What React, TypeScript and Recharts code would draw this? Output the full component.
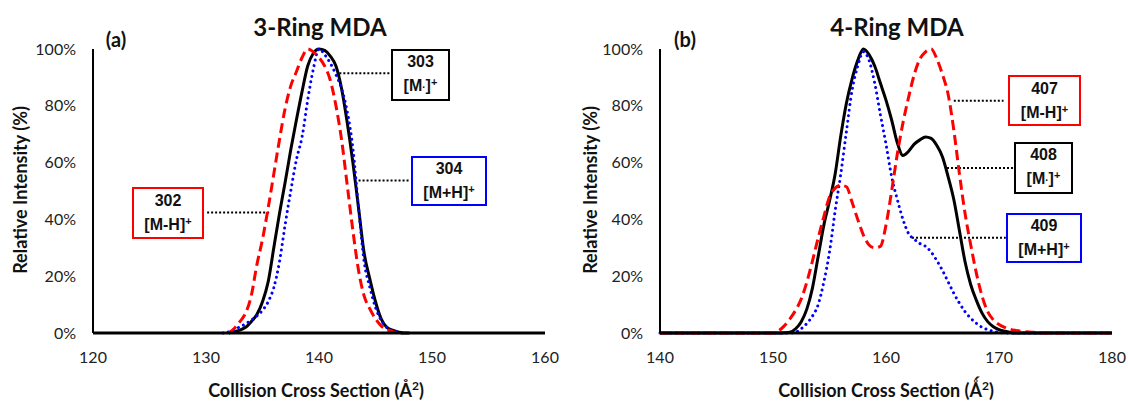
import React from 'react';
import { LineChart, Line, XAxis, YAxis, ReferenceLine } from 'recharts';

// 3-ring MDA, collision cross section (Å²) and relative intensity (%)
const ccs3 = [131.5, 132, 132.5, 133, 133.5, 134, 134.5, 135, 135.5, 136, 136.5, 137, 137.5, 138, 138.5, 139, 139.5, 140, 140.5, 141, 141.5, 142, 142.5, 143, 143.5, 144, 144.5, 145, 145.5, 146, 146.5, 147, 147.5, 148];
const mh302 = [null, 0, 1.6, 4, 7, 13, 24, 33, 44, 56, 68, 79, 87, 92, 97, 100, 99, 97, 94, 89, 80, 68, 52, 36, 22, 13, 8.5, 5, 2.5, 1.2, 0.5, 0, null, null];
const m303 = [null, 0, 0.5, 1, 2, 4, 6.5, 11, 18, 30, 42, 53, 64.5, 75, 85, 94, 98.5, 100, 99.5, 97.5, 94, 86, 74, 60, 44, 28, 19, 11, 5, 2, 1, 0.4, 0, 0];
const mh304 = [0, 0.4, 1.2, 2.2, 3.2, 4.5, 6, 8, 11, 16, 25, 38, 50, 61, 69, 82, 93, 100, 98, 95, 91, 86, 78, 65, 44, 25, 16, 9, 4.5, 2, 0.8, 0.3, 0, null];

// 4-ring MDA
const ccs4 = [140, 142, 144, 146, 148, 150, 150.5, 151, 151.5, 152, 152.5, 153, 153.5, 154, 154.5, 155, 155.5, 156, 156.5, 157, 157.5, 158, 158.5, 159, 159.5, 160, 160.5, 161, 161.5, 162, 162.5, 163, 163.5, 164, 164.5, 165, 165.5, 166, 166.5, 167, 167.5, 168, 168.5, 169, 169.5, 170, 170.5, 171, 171.5, 172, 173, 174, 176, 178, 180];
const mh407 = [0, 0, 0, 0, 0, 0, 0.8, 2.5, 5, 8, 12, 18, 25.5, 33.5, 41, 48, 51, 52, 51.5, 46, 40, 34.5, 31, 30, 30.5, 38, 50, 63, 74, 83, 91, 96.5, 99, 100, 96.5, 91, 84, 71.5, 56, 42, 31, 21, 13, 7.5, 4.6, 3, 2, 1.3, 0.9, 0.6, 0.3, 0, 0, 0, 0];
const m408 = [0, 0, 0, 0, 0, 0, 0, 0.1, 0.3, 1.5, 4, 8.5, 16, 27, 38, 46.5, 56, 69.5, 81, 89.5, 96, 100, 98, 94, 88, 82, 75, 67, 62.5, 64, 66.5, 68, 69, 68.5, 66, 62, 55, 47, 36, 25, 17, 11.5, 7, 4, 2.2, 1.2, 0.6, 0.2, 0, 0, 0, 0, 0, 0, 0];
const mh409 = [0, 0, 0, 0, 0, 0, 0, 0, 0, 0.3, 1.5, 3.4, 6, 10, 18, 28.5, 43, 56, 71, 85.5, 94, 99, 96, 88, 77, 66.5, 55, 47, 40, 35, 33, 31.5, 30.5, 28.5, 25.5, 22, 18, 14, 10.5, 7.5, 5.2, 3.4, 2, 1.2, 0.6, 0.2, 0, 0, 0, 0, 0, 0, 0, 0, 0];

const xTicks3 = [120, 130, 140, 150, 160];
const xTicks4 = [140, 150, 160, 170, 180];
const yTicks = [0, 20, 40, 60, 80, 100];

const data3 = ccs3.map((x, i) => ({ x, red: mh302[i], black: m303[i], blue: mh304[i] }));
const data4 = ccs4.map((x, i) => ({ x, red: mh407[i], black: m408[i], blue: mh409[i] }));

const FONT = 'Lato, "Open Sans", sans-serif';
const BOX_FONT = '"Liberation Sans", Arial, sans-serif';

const tickStyle = { fontFamily: FONT, fontSize: 16, fill: '#222' };

function Box({ left, top, width, height, color, mz, ion }: any) {
  return (
    <div
      style={{
        position: 'absolute', left, top, width, height, boxSizing: 'border-box',
        border: `2px solid ${color}`, background: '#fff', fontFamily: BOX_FONT,
        fontWeight: 'bold', fontSize: 16, lineHeight: '20px', color: '#111',
        display: 'flex', flexDirection: 'column', alignItems: 'center', justifyContent: 'center',
      }}
    >
      <div>{mz}</div>
      <div>
        {ion}
        <span style={{ fontSize: 11, verticalAlign: 5 }}>+</span>
      </div>
    </div>
  );
}

function Panel({ data, domain, ticks, leaders, width, margin }: any) {
  return (
    <LineChart width={width} height={402} data={data} margin={margin}>
      <XAxis
        dataKey="x"
        type="number"
        domain={domain}
        ticks={ticks}
        tickLine={false}
        tickSize={0}
        tickMargin={19}
        height={30}
        axisLine={{ stroke: '#000', strokeWidth: 3 }}
        tick={tickStyle}
      />
      <YAxis
        type="number"
        domain={[0, 100]}
        ticks={yTicks}
        tickFormatter={(v) => `${v}%`}
        tickLine={false}
        tickSize={0}
        tickMargin={17}
        width={60}
        axisLine={{ stroke: '#000', strokeWidth: 2 }}
        tick={tickStyle}
      />
      {leaders.map((l: any, i: number) => (
        <ReferenceLine
          key={i}
          segment={[{ x: l[0], y: l[2] }, { x: l[1], y: l[2] }]}
          stroke="#000"
          strokeWidth={2}
          strokeDasharray="2 2"
          ifOverflow="visible"
        />
      ))}
      <Line type="monotone" dataKey="black" stroke="#000" strokeWidth={3} dot={false} activeDot={false} isAnimationActive={false} />
      <Line type="monotone" dataKey="blue" stroke="#0000ff" strokeWidth={3} strokeDasharray="0.01 5.5" strokeLinecap="round" dot={false} activeDot={false} isAnimationActive={false} />
      <Line type="monotone" dataKey="red" stroke="#ff0000" strokeWidth={3} strokeDasharray="10 5" dot={false} activeDot={false} isAnimationActive={false} />
    </LineChart>
  );
}

const text = (extra: any) => ({
  position: 'absolute' as const, fontFamily: FONT, fontWeight: 'bold' as const, color: '#111', whiteSpace: 'nowrap' as const, ...extra,
});

export default function App() {
  return (
    <div style={{ position: 'relative', width: 1128, height: 402, background: '#fff', overflow: 'hidden' }}>
      <style>{'body{margin:0}'}</style>

      <div style={{ position: 'absolute', left: 0, top: 0 }}>
        <Panel
          data={data3}
          domain={[120, 160]}
          ticks={xTicks3}
          width={560}
          margin={{ top: 49, right: 15, bottom: 39, left: 33 }}
          leaders={[[141.8, 146.3, 91.5], [143.5, 148.1, 53.7], [130.1, 135.7, 42.4]]}
        />
      </div>
      <div style={{ position: 'absolute', left: 560, top: 0 }}>
        <Panel
          data={data4}
          domain={[140, 180]}
          ticks={xTicks4}
          width={568}
          margin={{ top: 49, right: 16, bottom: 39, left: 40 }}
          leaders={[[166.0, 170.4, 81.8], [165.4, 171.3, 58.1], [162.3, 170.6, 33.5]]}
        />
      </div>

      <div style={text({ left: 320, top: 26, fontSize: 24, transform: 'translate(-50%,-50%)' })}>3-Ring MDA</div>
      <div style={text({ left: 897, top: 26, fontSize: 24, transform: 'translate(-50%,-50%)' })}>4-Ring MDA</div>
      <div style={text({ left: 116, top: 39, fontSize: 20, transform: 'translate(-50%,-50%)' })}>(a)</div>
      <div style={text({ left: 685, top: 39, fontSize: 20, transform: 'translate(-50%,-50%)' })}>(b)</div>

      <div style={text({ left: 20, top: 190, fontSize: 18, transform: 'translate(-50%,-50%) rotate(-90deg)' })}>Relative Intensity (%)</div>
      <div style={text({ left: 590, top: 190, fontSize: 18, transform: 'translate(-50%,-50%) rotate(-90deg)' })}>Relative Intensity (%)</div>
      <div style={text({ left: 316, top: 389, fontSize: 18, transform: 'translate(-50%,-50%)' })}>
        Collision Cross Section (Å<sup style={{ fontSize: 12 }}>2</sup>)
      </div>
      <div style={text({ left: 886, top: 389, fontSize: 18, transform: 'translate(-50%,-50%)' })}>
        Collision Cross Section (Ǻ<sup style={{ fontSize: 12 }}>2</sup>)
      </div>

      <Box left={391} top={49} width={59} height={52} color="#000" mz="303" ion={<>[M<span style={{ fontSize: 10 }}>·</span>]</>} />
      <Box left={411} top={156} width={76} height={50} color="#0000ff" mz="304" ion="[M+H]" />
      <Box left={132} top={187} width={72} height={52} color="#ff0000" mz="302" ion="[M-H]" />

      <Box left={1008} top={75} width={73} height={51} color="#ff0000" mz="407" ion="[M-H]" />
      <Box left={1014} top={142} width={59} height={52} color="#000" mz="408" ion={<>[M<span style={{ fontSize: 10 }}>·</span>]</>} />
      <Box left={1006} top={213} width={76} height={50} color="#0000ff" mz="409" ion="[M+H]" />
    </div>
  );
}
